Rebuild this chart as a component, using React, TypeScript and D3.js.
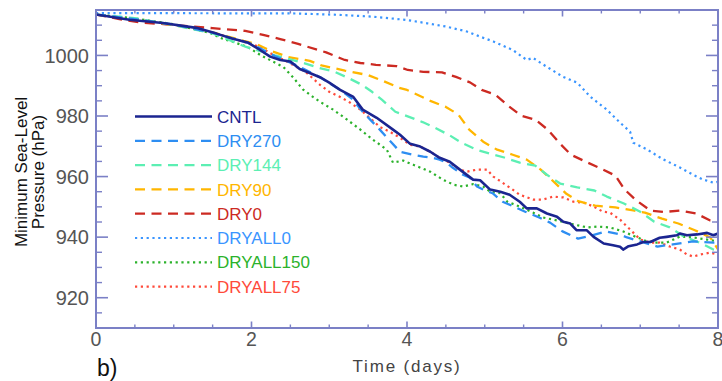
import React from "react";
import * as d3 from "d3";

type Pt = [number, number];

// ---- data (time in days, minimum sea-level pressure in hPa) ----
const CNTL: Pt[] = [[0,1013.5],[0.43,1011.8],[0.86,1010.7],[1.29,1009.1],[1.55,1007.2],[1.75,1005.6],[1.95,1004.3],[2.11,1001.8],[2.24,999.6],[2.37,998.5],[2.5,998],[2.62,995.5],[2.75,994.2],[2.88,992.8],[3.0,991],[3.14,988.6],[3.31,986.3],[3.43,982.1],[3.61,979.4],[3.82,975.5],[3.91,973.8],[4.04,970.8],[4.17,969.9],[4.3,968.2],[4.42,966.2],[4.55,964.9],[4.68,962.3],[4.85,959],[4.94,958.8],[5.07,955.7],[5.2,955],[5.32,954],[5.45,951.7],[5.54,949.5],[5.67,949.5],[5.8,947.8],[5.93,946.7],[6.01,945.1],[6.1,944.5],[6.18,942.3],[6.31,942.3],[6.4,940.1],[6.53,937.9],[6.65,937.3],[6.74,936.8],[6.78,935.9],[6.85,937],[6.96,937.6],[7.04,938.4],[7.13,938.4],[7.25,939.8],[7.34,940.1],[7.47,940.6],[7.51,941.2],[7.6,940.6],[7.73,940.9],[7.86,941.4],[7.94,940.6],[8.0,941.2]];
const DRY270: Pt[] = [[0,1013.5],[0.5,1012],[1.0,1010.2],[1.5,1007.5],[2.0,1003.8],[2.3,999.8],[2.6,996.5],[2.9,992.5],[3.15,988.5],[3.3,985.5],[3.43,981.4],[3.65,975.5],[3.78,971.8],[3.91,968.2],[4.08,967.2],[4.21,966.6],[4.33,966.2],[4.42,965.6],[4.51,964.6],[4.59,962.9],[4.72,960.6],[4.81,959.6],[4.9,956.7],[4.98,955.7],[5.1,954.5],[5.23,951.7],[5.32,950.7],[5.52,948.4],[5.7,946.5],[5.84,944.8],[6.0,941.9],[6.2,939.5],[6.37,940.5],[6.56,941.9],[6.74,940.9],[6.83,939.9],[7.0,938.6],[7.22,936.9],[7.42,937.6],[7.68,938.6],[7.94,938.2],[8.0,938.5]];
const DRY144: Pt[] = [[0,1013.5],[0.5,1012.3],[1.0,1010],[1.5,1007.3],[1.93,1002.8],[2.1,1001.5],[2.3,1000],[2.45,999],[2.62,997.9],[2.85,996],[3.07,994.6],[3.25,992.5],[3.42,990.3],[3.55,988],[3.68,985.3],[3.85,981.4],[4.06,979.4],[4.2,978],[4.36,976.1],[4.55,973.6],[4.7,971.2],[4.9,968.8],[5.06,967.6],[5.25,966.3],[5.45,964.6],[5.65,963.6],[5.8,960.6],[5.97,957.7],[6.19,956.4],[6.41,955.4],[6.57,953.4],[6.79,951.1],[7.0,948.4],[7.18,945.1],[7.38,943.2],[7.56,940.2],[7.79,937.9],[7.94,935.9],[8.0,935.5]];
const DRY90: Pt[] = [[0,1013.5],[0.5,1012],[1.0,1010],[1.5,1007.6],[1.9,1004.8],[2.06,1003.8],[2.25,1001.5],[2.47,999.5],[2.75,998.2],[2.9,996.7],[3.2,995],[3.5,993.5],[3.7,991.5],[3.9,989.3],[4.0,988.6],[4.3,985],[4.5,983],[4.66,980.5],[4.8,975.5],[4.98,971.5],[5.15,969],[5.36,967.2],[5.54,965.6],[5.72,962.3],[5.9,958],[6.05,954.3],[6.2,951.9],[6.42,950.4],[6.68,949.8],[6.91,948.8],[7.06,948.1],[7.28,946.1],[7.49,944.5],[7.71,942.2],[7.9,939.9],[8.0,936]];
const DRY0: Pt[] = [[0,1013.5],[0.3,1012],[0.6,1010.8],[0.9,1010.3],[1.2,1009.6],[1.5,1009],[1.92,1008.1],[2.15,1006.8],[2.37,1005.4],[2.6,1003.8],[2.96,1001],[3.2,998.5],[3.4,997.5],[3.6,996.9],[3.86,996.5],[4.01,995.2],[4.21,994.6],[4.45,994.4],[4.63,992.9],[4.81,991.1],[4.96,988.6],[5.14,987],[5.3,983.4],[5.47,980.1],[5.65,978.8],[5.81,975.5],[5.97,970.8],[6.11,967.2],[6.3,964.9],[6.5,962.6],[6.68,960.3],[6.8,955.7],[6.95,952.1],[7.13,948.8],[7.31,948.3],[7.51,948.8],[7.72,947.8],[7.9,945.5],[8.0,945.1]];
const DRYALL0: Pt[] = [[0,1014],[1.85,1013.9],[2.5,1013.9],[3.13,1013.4],[3.56,1012.8],[4.0,1011.7],[4.26,1010.6],[4.51,1009.5],[4.77,1007.9],[4.94,1006.2],[5.11,1004.6],[5.36,1001.8],[5.54,998.5],[5.62,999.2],[5.8,996.2],[6.01,992.9],[6.19,991],[6.36,986.3],[6.57,982.1],[6.74,977.8],[6.87,974.8],[6.91,971.2],[7.09,968.9],[7.3,965.6],[7.51,963],[7.68,960.6],[7.81,959],[7.94,958],[8.0,958.3]];
const DRYALL150: Pt[] = [[0,1013.5],[0.5,1012.2],[1.0,1010.3],[1.29,1008.5],[1.46,1007.5],[1.63,1005.5],[1.76,1004.5],[1.95,1002.8],[2.11,1000.2],[2.28,997.9],[2.41,996.2],[2.54,992.6],[2.66,988.8],[2.79,986.3],[2.88,984.7],[3.05,982.1],[3.23,978.8],[3.4,975.5],[3.56,972.2],[3.74,968.9],[3.82,964.6],[3.95,965.3],[4.08,963.9],[4.3,961.6],[4.46,959],[4.6,957.3],[4.72,956.7],[4.85,957.5],[4.98,956.7],[5.07,955],[5.2,954.5],[5.29,951.7],[5.45,950.1],[5.62,948.1],[5.75,946.5],[5.93,945.5],[6.14,944.2],[6.32,943.2],[6.44,943.5],[6.61,943.2],[6.78,941.9],[6.96,939.9],[7.09,938.6],[7.21,938.2],[7.34,938.2],[7.51,940.2],[7.68,939.9],[7.86,939.2],[8.0,938.6]];
const DRYALL75: Pt[] = [[0,1013.5],[0.5,1012],[1.0,1010.2],[1.5,1007.6],[1.9,1004.5],[2.11,1002.8],[2.24,1000.8],[2.46,997.9],[2.7,994.5],[2.88,990.3],[3.0,988],[3.14,986.3],[3.27,984.4],[3.4,982.1],[3.52,979.4],[3.65,976.4],[3.78,974.8],[3.91,972.8],[4.04,970.5],[4.17,969.9],[4.3,968.2],[4.42,966.2],[4.55,964.6],[4.68,962.3],[4.77,961.6],[4.9,962.3],[5.03,962.3],[5.11,960],[5.2,958.5],[5.32,956.4],[5.45,954],[5.62,952.4],[5.75,952.4],[5.88,953.4],[6.01,953.1],[6.14,951.7],[6.27,951.4],[6.4,950.1],[6.52,948.4],[6.61,948.1],[6.74,945.8],[6.83,943.5],[6.91,941.5],[7.0,939.2],[7.13,938.2],[7.25,938.2],[7.38,936.9],[7.51,935.9],[7.6,934.3],[7.68,933.6],[7.78,934.3],[7.9,934.9],[8.0,934.3]];

const SERIES_NAMES = ["CNTL","DRY270","DRY144","DRY90","DRY0","DRYALL0","DRYALL150","DRYALL75"];
const SERIES_DATA = [CNTL, DRY270, DRY144, DRY90, DRY0, DRYALL0, DRYALL150, DRYALL75];

const X_MAJOR = [0, 2, 4, 6, 8];
const Y_MAJOR = [920, 940, 960, 980, 1000];

// ---- styles ----
const COLORS = ["#1b2590", "#2e8ef2", "#5cefb3", "#ffb600", "#cc2a22", "#3a95ff", "#2bb22b", "#ff4a3a"];
const KINDS = ["solid", "dash", "dash", "dash", "dash", "dot", "dot", "dot"];

const AXIS = "#7b80c6";
const FONT = "'Liberation Sans', Arial, Helvetica, sans-serif";

const W = 722, H = 381;
const L = 96, R = 718, T = 10, B = 328;

export default function App() {
  const x = d3.scaleLinear().domain([0, 8]).range([L, R]);
  const y = d3.scaleLinear().domain([910, 1015]).range([B, T]);
  const line = d3.line<Pt>().x(d => x(d[0])).y(d => y(d[1])).curve(d3.curveLinear);

  const xMinor = d3.range(0, 8.01, 0.5).filter(v => !X_MAJOR.includes(v));
  const yMinor = d3.range(910, 1015.01, 5).filter(v => !Y_MAJOR.includes(v));

  const styleFor = (k: string) =>
    k === "solid" ? { w: 2.6, dash: undefined as string | undefined }
    : k === "dash" ? { w: 2.3, dash: "10 6.5" }
    : { w: 2.2, dash: "2.2 3.6" };

  const legendY = (i: number) => 116.5 + i * 24.3;

  return (
    <svg width={W} height={H} viewBox={`0 0 ${W} ${H}`}
      style={{ position: "absolute", left: 0, top: 0, background: "#fff" }}>
      <defs>
        <clipPath id="plot"><rect x={L} y={T} width={R - L} height={B - T} /></clipPath>
      </defs>
      <rect x={0} y={0} width={W} height={H} fill="#fff" />

      <g clipPath="url(#plot)">
        {SERIES_DATA.map((d, i) => {
          const s = styleFor(KINDS[i]);
          return <path key={SERIES_NAMES[i]} d={line(d) || ""} fill="none" stroke={COLORS[i]}
            strokeWidth={s.w} strokeDasharray={s.dash} strokeLinejoin="round" />;
        }).reverse()}
      </g>

      <rect x={L} y={T} width={R - L} height={B - T} fill="none" stroke={AXIS} strokeWidth={2} />

      {Y_MAJOR.map(v => (
        <g key={"ym" + v}>
          <line x1={L} x2={L + 12} y1={y(v)} y2={y(v)} stroke={AXIS} strokeWidth={1.6} />
          <line x1={R} x2={R - 12} y1={y(v)} y2={y(v)} stroke={AXIS} strokeWidth={1.6} />
          <text x={L - 7} y={y(v)} dy="0.36em" textAnchor="end" fontFamily={FONT} fontSize={20} fill="#555">{v}</text>
        </g>
      ))}
      {yMinor.map(v => (
        <g key={"yn" + v}>
          <line x1={L} x2={L + 6} y1={y(v)} y2={y(v)} stroke={AXIS} strokeWidth={1.4} />
          <line x1={R} x2={R - 6} y1={y(v)} y2={y(v)} stroke={AXIS} strokeWidth={1.4} />
        </g>
      ))}

      {X_MAJOR.map(v => (
        <g key={"xm" + v}>
          <line x1={x(v)} x2={x(v)} y1={B} y2={B - 6.5} stroke={AXIS} strokeWidth={1.6} />
          <line x1={x(v)} x2={x(v)} y1={T} y2={T + 6.5} stroke={AXIS} strokeWidth={1.6} />
          <text x={x(v)} y={346} textAnchor="middle" fontFamily={FONT} fontSize={19.5} fill="#555">{v}</text>
        </g>
      ))}
      {xMinor.map(v => (
        <g key={"xn" + v}>
          <line x1={x(v)} x2={x(v)} y1={B} y2={B - 3.5} stroke={AXIS} strokeWidth={1.4} />
          <line x1={x(v)} x2={x(v)} y1={T} y2={T + 3.5} stroke={AXIS} strokeWidth={1.4} />
        </g>
      ))}

      <text x={407} y={372} textAnchor="middle" fontFamily={FONT} fontSize={17} letterSpacing={1.8} fill="#444">Time (days)</text>
      <text transform="translate(27,172) rotate(-90)" textAnchor="middle" fontFamily={FONT} fontSize={17} fill="#111">Minimum Sea-Level</text>
      <text transform="translate(44,172) rotate(-90)" textAnchor="middle" fontFamily={FONT} fontSize={17} fill="#111">Pressure (hPa)</text>
      <text x={97} y={376} fontFamily={FONT} fontSize={23} fill="#111">b)</text>

      {SERIES_NAMES.map((n, i) => {
        const s = styleFor(KINDS[i]);
        const ly = legendY(i);
        return (
          <g key={"lg" + n}>
            <line x1={135} x2={212} y1={ly} y2={ly} stroke={COLORS[i]} strokeWidth={s.w} strokeDasharray={s.dash} />
            <text x={217} y={ly} dy="0.36em" fontFamily={FONT} fontSize={17} fill={COLORS[i]}>{n}</text>
          </g>
        );
      })}
    </svg>
  );
}
